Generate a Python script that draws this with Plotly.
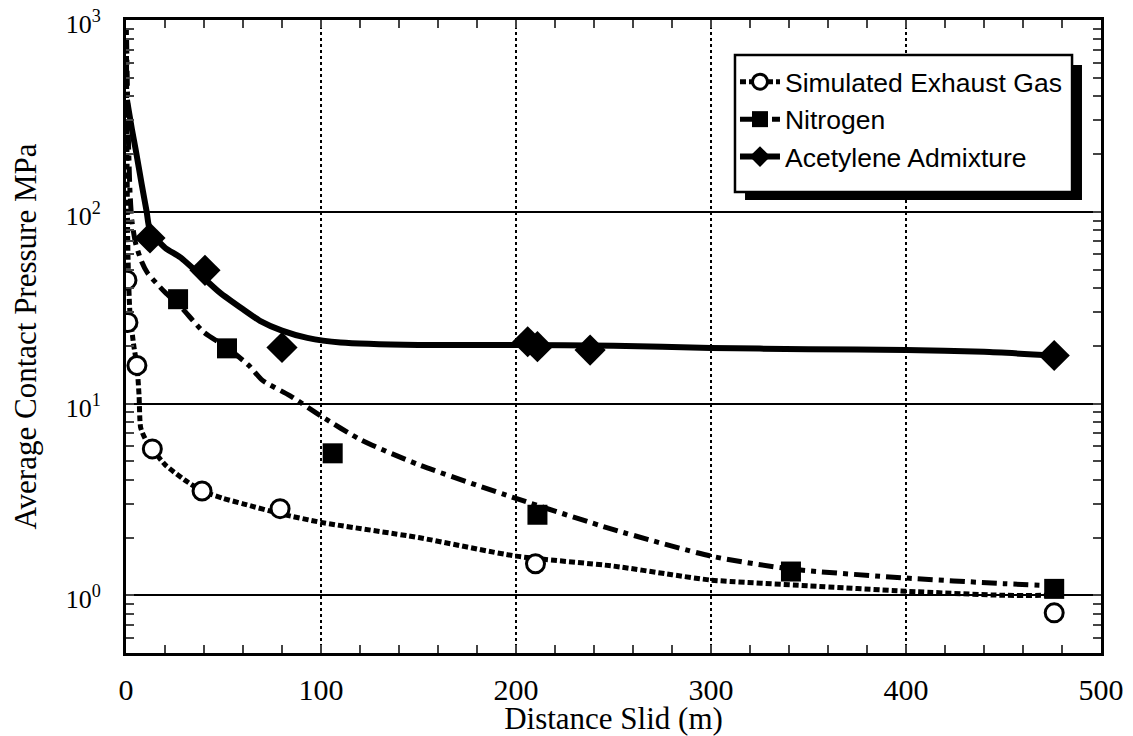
import plotly.graph_objects as go

# ---- data ----
series_names = ["Simulated Exhaust Gas", "Nitrogen", "Acetylene Admixture"]

exhaust_x = [0.5, 1.0, 5.6, 13.5, 39, 79, 210, 476]
exhaust_y = [44, 26.5, 15.8, 5.8, 3.5, 2.83, 1.46, 0.81]

nitrogen_x = [26.7, 51.8, 106, 211, 341, 476]
nitrogen_y = [35, 19.4, 5.5, 2.63, 1.33, 1.08]

acetylene_x = [12.3, 40.5, 80, 206, 211, 238, 476]
acetylene_y = [73, 49.5, 19.6, 21, 19.8, 19.0, 17.8]

# fitted curves drawn through the data
exh_curve_x = [0.2, 0.5, 1, 2, 4, 5.6, 6.7, 7.5, 10, 13.5, 20, 30, 39, 50, 60, 80,
               100, 150, 200, 250, 280, 300, 350, 400, 450, 476]
exh_curve_y = [900, 200, 60, 30, 20, 15.8, 11, 7.5, 6.5, 5.8, 4.8, 4.0, 3.5, 3.2, 3.0, 2.65,
               2.4, 2.0, 1.6, 1.42, 1.28, 1.2, 1.12, 1.05, 1.0, 1.0]

nit_curve_x = [0.3, 1, 2, 3, 5, 8, 11, 20, 28, 40, 52, 63, 70, 84, 100, 120, 150,
               200, 250, 300, 341, 400, 450, 476]
nit_curve_y = [800, 300, 130, 90, 68, 55, 48, 38, 32, 23.5, 19.5, 15.8, 13.2, 11, 8.6, 6.5, 4.8,
               3.2, 2.2, 1.6, 1.37, 1.23, 1.15, 1.12]

ace_curve_x = [0.5, 3, 5, 8, 10.6, 12.3, 20, 27.7, 40, 48, 60, 68.7, 80, 93, 110,
               150, 200, 250, 300, 350, 400, 440, 476]
ace_curve_y = [383, 270, 210, 140, 100, 80, 65, 58, 45, 38, 31, 27, 24, 22, 20.8,
               20.2, 20.2, 20.0, 19.5, 19.2, 19.0, 18.6, 17.8]

x_ticks = [0, 100, 200, 300, 400, 500]
y_ticks = [1, 10, 100, 1000]
y_ticktext = ["10<sup>0</sup>", "10<sup>1</sup>", "10<sup>2</sup>", "10<sup>3</sup>"]
y_minor = [0.5, 0.6, 0.7, 0.8, 0.9] + [m * d for d in (1, 10, 100) for m in range(2, 10)]

# ---- styles ----
exh_dash = "6px,3px"
nit_dash = "15px,6px,5px,6px"
LW = 5

fig = go.Figure()

# curves
fig.add_trace(go.Scatter(x=exh_curve_x, y=exh_curve_y, mode="lines", showlegend=False,
                         line=dict(color="black", width=LW, dash=exh_dash, shape="spline", smoothing=0.6)))
fig.add_trace(go.Scatter(x=nit_curve_x, y=nit_curve_y, mode="lines", showlegend=False,
                         line=dict(color="black", width=LW, dash=nit_dash, shape="spline", smoothing=0.6)))
fig.add_trace(go.Scatter(x=ace_curve_x, y=ace_curve_y, mode="lines", showlegend=False,
                         line=dict(color="black", width=6, shape="spline", smoothing=0.6)))

# markers
fig.add_trace(go.Scatter(x=exhaust_x, y=exhaust_y, mode="markers", showlegend=False,
                         marker=dict(symbol="circle", size=18, color="white",
                                     line=dict(color="black", width=3))))
fig.add_trace(go.Scatter(x=nitrogen_x, y=nitrogen_y, mode="markers", showlegend=False,
                         marker=dict(symbol="square", size=20, color="black",
                                     line=dict(color="black", width=0))))
fig.add_trace(go.Scatter(x=acetylene_x, y=acetylene_y, mode="markers", showlegend=False,
                         marker=dict(symbol="diamond", size=24, color="black",
                                     line=dict(color="black", width=0))))

# legend entries
fig.add_trace(go.Scatter(x=[None], y=[None], mode="lines+markers", name=series_names[0],
                         line=dict(color="black", width=LW, dash=exh_dash),
                         marker=dict(symbol="circle", size=15, color="white",
                                     line=dict(color="black", width=3))))
fig.add_trace(go.Scatter(x=[None], y=[None], mode="lines+markers", name=series_names[1],
                         line=dict(color="black", width=LW, dash=nit_dash),
                         marker=dict(symbol="square", size=20, color="black")))
fig.add_trace(go.Scatter(x=[None], y=[None], mode="lines+markers", name=series_names[2],
                         line=dict(color="black", width=6),
                         marker=dict(symbol="diamond", size=24, color="black")))

serif = "Liberation Serif, Times New Roman, serif"
sans = "Liberation Sans, Arial, sans-serif"

fig.update_layout(
    width=1125, height=728,
    margin=dict(l=118, r=32, t=12, b=83, autoexpand=False),
    paper_bgcolor="white", plot_bgcolor="white",
    font=dict(family=serif, color="black", size=29),
    legend=dict(x=0.6246, y=0.94, xanchor="left", yanchor="top",
                bgcolor="rgba(0,0,0,0)", borderwidth=0,
                font=dict(family=sans, size=26.5, color="black"),
                itemwidth=40, tracegroupgap=0),
    shapes=[
        # legend shadow
        dict(type="rect", xref="paper", yref="paper",
             x0=0.6349, x1=0.9805, y0=0.7156, y1=0.9289,
             fillcolor="black", line=dict(width=0), layer="above"),
        # legend box
        dict(type="rect", xref="paper", yref="paper",
             x0=0.6246, x1=0.9703, y0=0.7283, y1=0.9447,
             fillcolor="white", line=dict(color="black", width=2.5), layer="above"),
    ],
)

fig.update_xaxes(
    range=[0, 500], tickvals=x_ticks, ticks="inside", ticklen=8, tickwidth=2,
    showline=True, linecolor="black", linewidth=3, mirror="allticks",
    showgrid=True, gridcolor="black", gridwidth=2, griddash="dot",
    zeroline=False, automargin=False, ticklabelstandoff=8, ticklabeloverflow="allow",
    minor=dict(dtick=20, ticks="inside", ticklen=8, tickwidth=2, showgrid=False),
    tickfont=dict(family=serif, size=30),
    title=dict(text="Distance Slid (m)", font=dict(family=serif, size=31), standoff=6),
)

fig.update_yaxes(
    type="log", range=[-0.30103, 3.0002], tickvals=y_ticks, ticktext=y_ticktext,
    ticks="inside", ticklen=8, tickwidth=2,
    showline=True, linecolor="black", linewidth=3, mirror="allticks",
    showgrid=True, gridcolor="black", gridwidth=2,
    zeroline=False, automargin=False, ticklabelstandoff=17, ticklabelshift=4,
    ticklabeloverflow="allow",
    minor=dict(tickvals=y_minor, ticks="inside", ticklen=8, tickwidth=2, showgrid=False),
    tickfont=dict(family=serif, size=26),
    title=dict(text="Average Contact Pressure MPa", font=dict(family=serif, size=31), standoff=24),
)

fig.write_html("out.html")
